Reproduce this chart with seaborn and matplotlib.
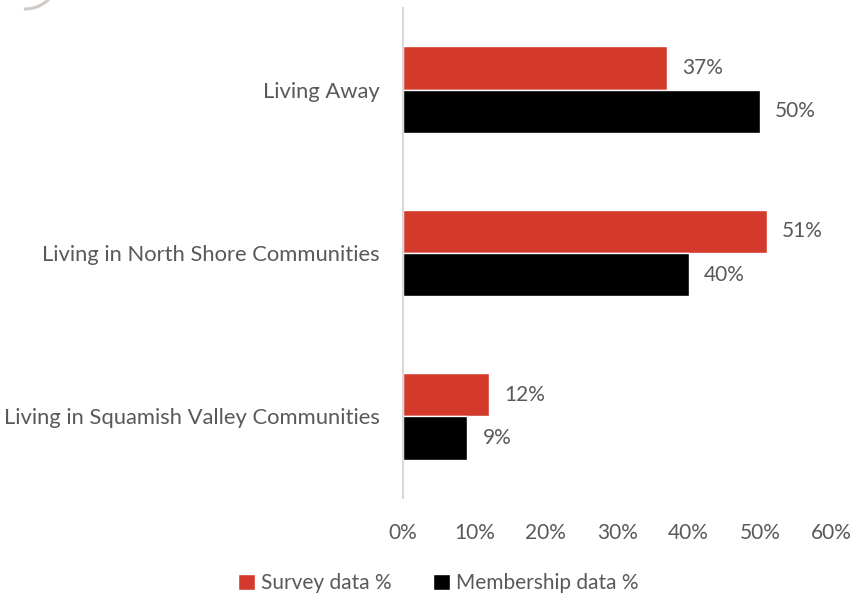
import matplotlib
matplotlib.use("Agg")
import matplotlib.pyplot as plt
from matplotlib.patches import Arc
import seaborn as sns
import pandas as pd

categories = ["Living Away", "Living in North Shore Communities", "Living in Squamish Valley Communities"]
survey = [37, 51, 12]
membership = [50, 40, 9]
series_names = ["Survey data %", "Membership data %"]
x_ticks = [0, 10, 20, 30, 40, 50, 60]

df = pd.DataFrame({
    "category": categories * 2,
    "value": survey + membership,
    "series": [series_names[0]] * 3 + [series_names[1]] * 3,
})

sns.set_theme(style="white")
plt.rcParams["font.family"] = ["Lato", "DejaVu Sans"]
text_color = "#595959"

fig = plt.figure(figsize=(8.56, 5.98), dpi=100)
ax = fig.add_axes([0.471, 0.167, 0.5, 0.82])

sns.barplot(data=df, y="category", x="value", hue="series", orient="h",
            palette=["#D33A2C", "#000000"], width=0.53, ax=ax, saturation=1)

for cont in ax.containers:
    ax.bar_label(cont, labels=[f"{v:.0f}%" for v in cont.datavalues],
                 padding=11, fontsize=15, color=text_color)

ax.set_xlim(0, 60)
ax.set_xticks(x_ticks)
ax.set_xticklabels([f"{t}%" for t in x_ticks], fontsize=15, color=text_color)
ax.tick_params(axis="x", length=0, pad=18)
ax.tick_params(axis="y", length=0, pad=17, labelsize=15.8, labelcolor=text_color)
ax.set_xlabel("")
ax.set_ylabel("")
for side in ["top", "right", "bottom"]:
    ax.spines[side].set_visible(False)
ax.spines["left"].set_color("#D9D9D9")
ax.spines["left"].set_linewidth(1.5)

handles, labels = ax.get_legend_handles_labels()
ax.legend_.remove()
fig.legend(handles, labels, loc="center", bbox_to_anchor=(0.512, 0.025), ncol=2,
           frameon=False, fontsize=15, labelcolor=text_color,
           handlelength=0.8, handleheight=0.8, handletextpad=0.3, columnspacing=2.0)

# partial logo swoosh in the corner
fig.add_artist(Arc((0.25, 6.23), 0.68, 0.68, theta1=268, theta2=318,
                   transform=fig.dpi_scale_trans, color="#CFCAC6", linewidth=2.2))

fig.savefig("out.png", dpi=100)
